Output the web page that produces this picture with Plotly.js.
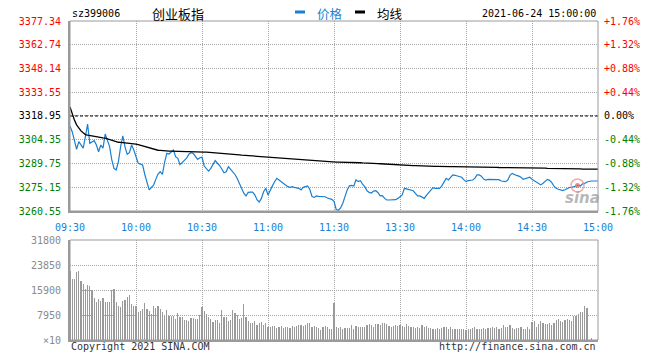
<!DOCTYPE html>
<html><head><meta charset="utf-8">
<script src="https://cdn.plot.ly/plotly-3.0.1.min.js"></script>
<style>html,body{margin:0;padding:0;background:#fff}#chart{width:660px;height:360px}</style>
</head><body><div id="chart"></div>
<script>
const timeLabels = ['09:30','10:00','10:30','11:00','11:30','13:30','14:00','14:30','15:00'];
const timeTickPos = [0,30,60,90,120,150,180,210,240];
const prevClose = 3318.95;
const priceTicks = [3260.55,3275.15,3289.75,3304.35,3318.95,3333.55,3348.14,3362.74,3377.34];
const priceTickText = ['3260.55','3275.15','3289.75','3304.35','3318.95','3333.55','3348.14','3362.74','3377.34'];
const pctTickText = ['-1.76%','-1.32%','-0.88%','-0.44%','0.00%','+0.44%','+0.88%','+1.32%','+1.76%'];
const volTicks = [0,7950,15900,23850,31800];
const volTickText = ['×10','7950','15900','23850','31800'];

const price = [
3312.8,3309.3,3304.0,3298.5,3303.2,3301.1,3299.2,3306.2,3314.0,3302.2,
3303.2,3303.8,3301.1,3297.0,3301.1,3299.2,3307.9,3303.2,3300.1,3292.0,
3286.8,3285.8,3290.9,3300.0,3306.7,3300.0,3295.4,3296.4,3301.1,3298.0,
3293.9,3289.9,3289.4,3288.8,3283.0,3277.5,3273.5,3275.1,3276.5,3280.0,
3283.3,3284.7,3283.0,3290.5,3296.0,3295.6,3297.0,3298.0,3293.9,3292.9,
3289.0,3290.5,3291.5,3293.0,3295.5,3296.4,3296.0,3294.4,3292.3,3293.3,
3293.6,3288.2,3286.8,3285.1,3286.8,3289.4,3291.5,3289.9,3288.5,3286.4,
3284.1,3284.7,3287.8,3286.2,3284.7,3283.0,3280.5,3277.5,3274.5,3271.5,
3269.8,3272.0,3272.2,3272.2,3270.5,3267.5,3266.1,3268.3,3272.4,3274.5,
3270.4,3273.5,3276.0,3278.5,3280.6,3279.6,3278.6,3277.5,3276.5,3275.5,
3275.1,3275.5,3275.1,3274.8,3274.5,3273.5,3275.1,3275.5,3275.9,3273.9,
3269.5,3268.9,3269.8,3269.5,3269.3,3269.3,3269.3,3268.5,3268.0,3267.7,
3266.5,3261.5,3261.0,3262.5,3265.3,3269.3,3273.5,3276.0,3276.3,3275.9,
3279.8,3278.6,3279.2,3277.0,3275.5,3273.0,3272.0,3271.6,3272.8,3273.0,
3271.8,3269.8,3270.0,3268.3,3267.3,3267.3,3267.5,3267.3,3267.5,3268.3,
3269.3,3270.4,3274.5,3274.1,3273.8,3273.5,3273.0,3271.4,3269.8,3269.8,
3268.8,3268.3,3270.2,3271.8,3273.9,3274.9,3274.5,3274.5,3274.5,3276.0,
3278.0,3280.6,3279.6,3281.0,3282.7,3282.5,3282.2,3281.6,3281.3,3279.8,
3278.6,3279.2,3279.4,3279.6,3280.6,3282.7,3282.7,3282.0,3280.2,3279.6,
3280.0,3280.0,3280.0,3279.6,3279.6,3279.8,3279.0,3278.6,3278.6,3279.6,
3282.5,3283.7,3282.9,3282.4,3282.0,3281.3,3280.0,3280.4,3281.0,3281.3,
3280.0,3279.2,3278.6,3277.4,3276.6,3277.6,3278.6,3280.0,3279.4,3278.0,
3275.8,3274.5,3273.9,3273.6,3273.1,3273.6,3274.3,3275.0,3275.1,3275.4,
3275.9,3276.5,3275.9,3277.2,3277.5,3278.4,3278.8,3279.0,3279.0,3279.0,
3279.0];

const avgLine = [
3324.5,3320.0,3316.5,3313.5,3311.6,3309.8,3308.6,3307.5,3307.2,3306.9,
3306.6,3306.3,3306.0,3305.8,3305.6,3305.5,3305.4,3305.0,3304.5,3304.0,
3303.4,3303.0,3302.8,3302.7,3302.6,3302.4,3302.3,3302.1,3302.0,3301.9,
3301.7,3301.3,3300.9,3300.5,3300.2,3299.9,3299.4,3298.9,3298.5,3298.1,
3297.9,3297.8,3297.6,3297.5,3297.4,3297.35,3297.3,3297.2,3297.2,3297.2,
3297.1,3297.1,3297.0,3297.0,3297.0,3296.9,3296.9,3296.9,3296.8,3296.8,
3296.8,3296.7,3296.7,3296.6,3296.6,3296.5,3296.5,3296.4,3296.3,3296.3,
3296.2,3296.0,3295.9,3295.7,3295.5,3295.4,3295.2,3295.1,3294.9,3294.8,
3294.6,3294.5,3294.4,3294.3,3294.2,3294.0,3293.9,3293.8,3293.7,3293.6,
3293.5,3293.4,3293.2,3293.1,3293.0,3293.0,3292.9,3292.8,3292.8,3292.7,
3292.6,3292.6,3292.5,3292.4,3292.2,3292.1,3292.0,3291.8,3291.7,3291.5,
3291.3,3291.2,3291.1,3291.0,3291.0,3290.9,3290.8,3290.8,3290.7,3290.7,
3290.7,3290.6,3290.6,3290.6,3290.6,3290.5,3290.5,3290.4,3290.4,3290.3,
3290.3,3290.2,3290.2,3290.1,3290.1,3290.0,3289.9,3289.9,3289.8,3289.7,
3289.7,3289.6,3289.5,3289.4,3289.3,3289.3,3289.2,3289.1,3289.0,3289.0,
3288.9,3288.8,3288.8,3288.7,3288.7,3288.6,3288.5,3288.5,3288.4,3288.3,
3288.2,3288.2,3288.1,3288.1,3288.1,3288.0,3288.0,3288.0,3287.9,3287.9,
3287.9,3287.9,3287.8,3287.8,3287.8,3287.8,3287.7,3287.7,3287.7,3287.7,
3287.6,3287.6,3287.6,3287.6,3287.6,3287.5,3287.5,3287.5,3287.5,3287.5,
3287.4,3287.4,3287.4,3287.4,3287.4,3287.3,3287.3,3287.3,3287.3,3287.3,
3287.2,3287.2,3287.2,3287.2,3287.2,3287.1,3287.1,3287.1,3287.1,3287.1,
3287.0,3287.0,3287.0,3287.0,3286.9,3286.9,3286.9,3286.8,3286.8,3286.7,
3286.7,3286.7,3286.6,3286.6,3286.5,3286.5,3286.5,3286.4,3286.4,3286.4,
3286.4,3286.4,3286.4,3286.3,3286.3,3286.3,3286.3,3286.3,3286.3,3286.3,
3286.3];

const volume = [
21836,19504,19504,21624,21942,18868,17808,16324,17490,17278,
16006,13356,12084,13038,12508,13356,12084,12084,12084,15794,
16218,12084,10918,10494,12402,12826,13674,14416,11448,10918,
10918,8904,9328,9964,11766,9964,9328,8268,10812,10176,
10812,9858,8904,7738,9540,7632,7632,7632,6784,8480,
7208,7420,6466,6466,6148,6996,6996,6600,6600,7900,
10400,9300,8300,7200,6600,5800,6400,6400,5500,9500,
7200,7200,6000,6400,9500,8500,8000,6600,6900,11400,
7400,6100,5300,5300,6100,4900,5500,5800,4800,5500,
4200,4200,4500,4500,3800,4200,4500,3800,4200,4200,
3700,4500,4200,4500,4800,4800,4500,4800,5500,5500,
4200,4500,4000,3700,3200,4200,4500,4200,3500,3500,
11900,4240,3900,4240,3400,3700,3900,3900,4770,3400,
4560,4240,4030,4240,4240,4770,4980,4770,4240,5090,
4980,4880,5300,5300,4980,4450,4240,4450,4770,4560,
4770,4450,4240,4980,4450,4240,4030,3710,4030,3710,
4770,4240,4450,3920,3710,3500,3500,3710,3500,3920,
4130,4130,3500,4030,3390,3390,3390,3600,3500,3500,
3180,3390,3390,3710,4130,3500,3500,3390,3710,3500,
3920,3920,4240,3920,4240,3500,3920,4770,4240,4030,
4770,3920,3500,3710,3920,4240,3500,3500,4240,3600,
5830,6150,4240,4980,6150,5510,5090,4980,5510,4770,
5300,6360,6570,6150,5830,6360,6570,6360,6150,7740,
7630,8270,9010,9010,10800,10070,0,700,0,0,
0];

const idx = price.map((_, i) => i);

const RED = '#ff0000', GREEN = '#008000', BLUE = '#1a7fd0', GRID = '#a6a6a6', FRAME = '#9a9a9a';
const mono = 'DejaVu Sans Mono, monospace';
const cjk = 'Noto Sans CJK SC, sans-serif';

function colorFor(v){ return v > prevClose + 0.001 ? RED : (v < prevClose - 0.001 ? GREEN : '#000'); }
const leftText = priceTicks.map((v,i) => `<span style="color:${colorFor(v)}">${priceTickText[i]}</span>`);
const rightText = priceTicks.map((v,i) => `<span style="color:${colorFor(v)}">${pctTickText[i]}</span>`);

// plot area: x 70..598, y 21..340
const L = 70, R = 598, T = 21, B = 340;
const px = x => (x - L) / (R - L);
const py = y => (B - y) / (B - T);
const priceDom = [py(211), 1];
const volDom = [0, py(240)];

const traces = [
  {x: idx, y: volume, type: 'bar', xaxis: 'x2', yaxis: 'y2', marker: {color: '#9a9a9a', line: {width: 0}}, width: 0.48, hoverinfo: 'skip'},
  {x: idx, y: avgLine, type: 'scatter', mode: 'lines', xaxis: 'x', yaxis: 'y3', line: {color: '#000', width: 1.3}, hoverinfo: 'skip'},
  {x: idx, y: price, type: 'scatter', mode: 'lines', xaxis: 'x', yaxis: 'y', line: {color: BLUE, width: 1.2}, hoverinfo: 'skip'}
];

const axisCommon = {zeroline: false, fixedrange: true, showgrid: true, gridcolor: GRID, griddash: '1px,1px', gridwidth: 1};

const layout = {
  width: 660, height: 360,
  margin: {l: L, r: 660 - R, t: T, b: 360 - B},
  paper_bgcolor: '#fff', plot_bgcolor: '#fff',
  showlegend: false, bargap: 0,
  xaxis: Object.assign({}, axisCommon, {domain: [0, 1], anchor: 'y', range: [0, 240], tickmode: 'array', tickvals: timeTickPos, ticktext: timeLabels,
    tickfont: {family: mono, size: 10, color: BLUE}, ticks: 'outside', ticklen: 6, tickcolor: 'rgba(0,0,0,0)',
    showline: true, linecolor: FRAME, linewidth: 2}),
  yaxis: Object.assign({}, axisCommon, {domain: priceDom, anchor: 'x', range: [priceTicks[0], priceTicks[8]], tickmode: 'array', tickvals: priceTicks, ticktext: leftText,
    tickfont: {family: mono, size: 10, color: '#000'}, ticks: 'outside', ticklen: 5, tickcolor: 'rgba(0,0,0,0)',
    showline: true, linecolor: FRAME, linewidth: 2}),
  yaxis3: {overlaying: 'y', side: 'right', anchor: 'x', range: [priceTicks[0], priceTicks[8]], tickmode: 'array', tickvals: priceTicks, ticktext: rightText,
    tickfont: {family: mono, size: 10, color: '#000'}, ticks: 'outside', ticklen: 3, tickcolor: 'rgba(0,0,0,0)',
    showgrid: false, zeroline: false, showline: false, fixedrange: true},
  xaxis2: Object.assign({}, axisCommon, {domain: [0, 1], anchor: 'y2', range: [0, 240], tickmode: 'array', tickvals: timeTickPos, showticklabels: false,
    ticks: '', showline: true, linecolor: FRAME, linewidth: 2}),
  yaxis2: Object.assign({}, axisCommon, {domain: volDom, anchor: 'x2', range: [0, 31800], tickmode: 'array', tickvals: volTicks, ticktext: volTickText,
    tickfont: {family: mono, size: 10, color: '#8a8a8a'}, ticks: 'outside', ticklen: 5, tickcolor: 'rgba(0,0,0,0)',
    showline: true, linecolor: FRAME, linewidth: 2}),
  shapes: [
    {type: 'line', xref: 'x', yref: 'y', x0: 0, x1: 240, y0: prevClose, y1: prevClose, line: {color: '#000', width: 1, dash: '3px,2px'}},
    {type: 'rect', xref: 'paper', yref: 'paper', x0: 0, x1: 1, y0: priceDom[0], y1: 1, line: {color: FRAME, width: 1}},
    {type: 'rect', xref: 'paper', yref: 'paper', x0: 0, x1: 1, y0: 0, y1: volDom[1], line: {color: FRAME, width: 1}},
    {type: 'line', xref: 'paper', yref: 'paper', x0: px(295), x1: px(305), y0: py(12), y1: py(12), line: {color: BLUE, width: 3}},
    {type: 'line', xref: 'paper', yref: 'paper', x0: px(355), x1: px(365), y0: py(12), y1: py(12), line: {color: '#000', width: 3}},
    {type: 'circle', xref: 'paper', yref: 'paper', x0: px(571), x1: px(584), y0: py(192), y1: py(179), line: {color: 'rgba(240,150,150,0.8)', width: 1.5}},
    {type: 'circle', xref: 'paper', yref: 'paper', x0: px(575), x1: px(580), y0: py(188), y1: py(183), fillcolor: 'rgba(230,110,110,0.8)', line: {width: 0}}
  ],
  annotations: [
    {xref: 'paper', yref: 'paper', x: px(70), y: py(13), xanchor: 'left', yanchor: 'middle', text: 'sz399006', showarrow: false, font: {family: mono, size: 10, color: '#000'}},
    {xref: 'paper', yref: 'paper', x: px(150), y: py(13), xanchor: 'left', yanchor: 'middle', text: '创业板指', showarrow: false, font: {family: cjk, size: 13, color: '#000'}},
    {xref: 'paper', yref: 'paper', x: px(315), y: py(13), xanchor: 'left', yanchor: 'middle', text: '价格', showarrow: false, font: {family: cjk, size: 12.5, color: BLUE}},
    {xref: 'paper', yref: 'paper', x: px(375), y: py(13), xanchor: 'left', yanchor: 'middle', text: '均线', showarrow: false, font: {family: cjk, size: 12.5, color: '#000'}},
    {xref: 'paper', yref: 'paper', x: px(598), y: py(13), xanchor: 'right', yanchor: 'middle', text: '2021-06-24 15:00:00', showarrow: false, font: {family: mono, size: 10, color: '#000'}},
    {xref: 'paper', yref: 'paper', x: px(69), y: py(346), xanchor: 'left', yanchor: 'middle', text: 'Copyright 2021 SINA.COM', showarrow: false, font: {family: mono, size: 10, color: '#333'}},
    {xref: 'paper', yref: 'paper', x: px(598), y: py(346), xanchor: 'right', yanchor: 'middle', text: 'http://finance.sina.com.cn', showarrow: false, font: {family: mono, size: 10, color: '#333'}},
    {xref: 'paper', yref: 'paper', x: px(582), y: py(198), xanchor: 'center', yanchor: 'middle', text: '<b><i>sina</i></b>', showarrow: false, font: {family: 'DejaVu Sans, sans-serif', size: 15, color: 'rgba(160,160,160,0.75)'}}
  ]
};

Plotly.newPlot('chart', traces, layout, {staticPlot: true, displayModeBar: false});
</script>
</body></html>
